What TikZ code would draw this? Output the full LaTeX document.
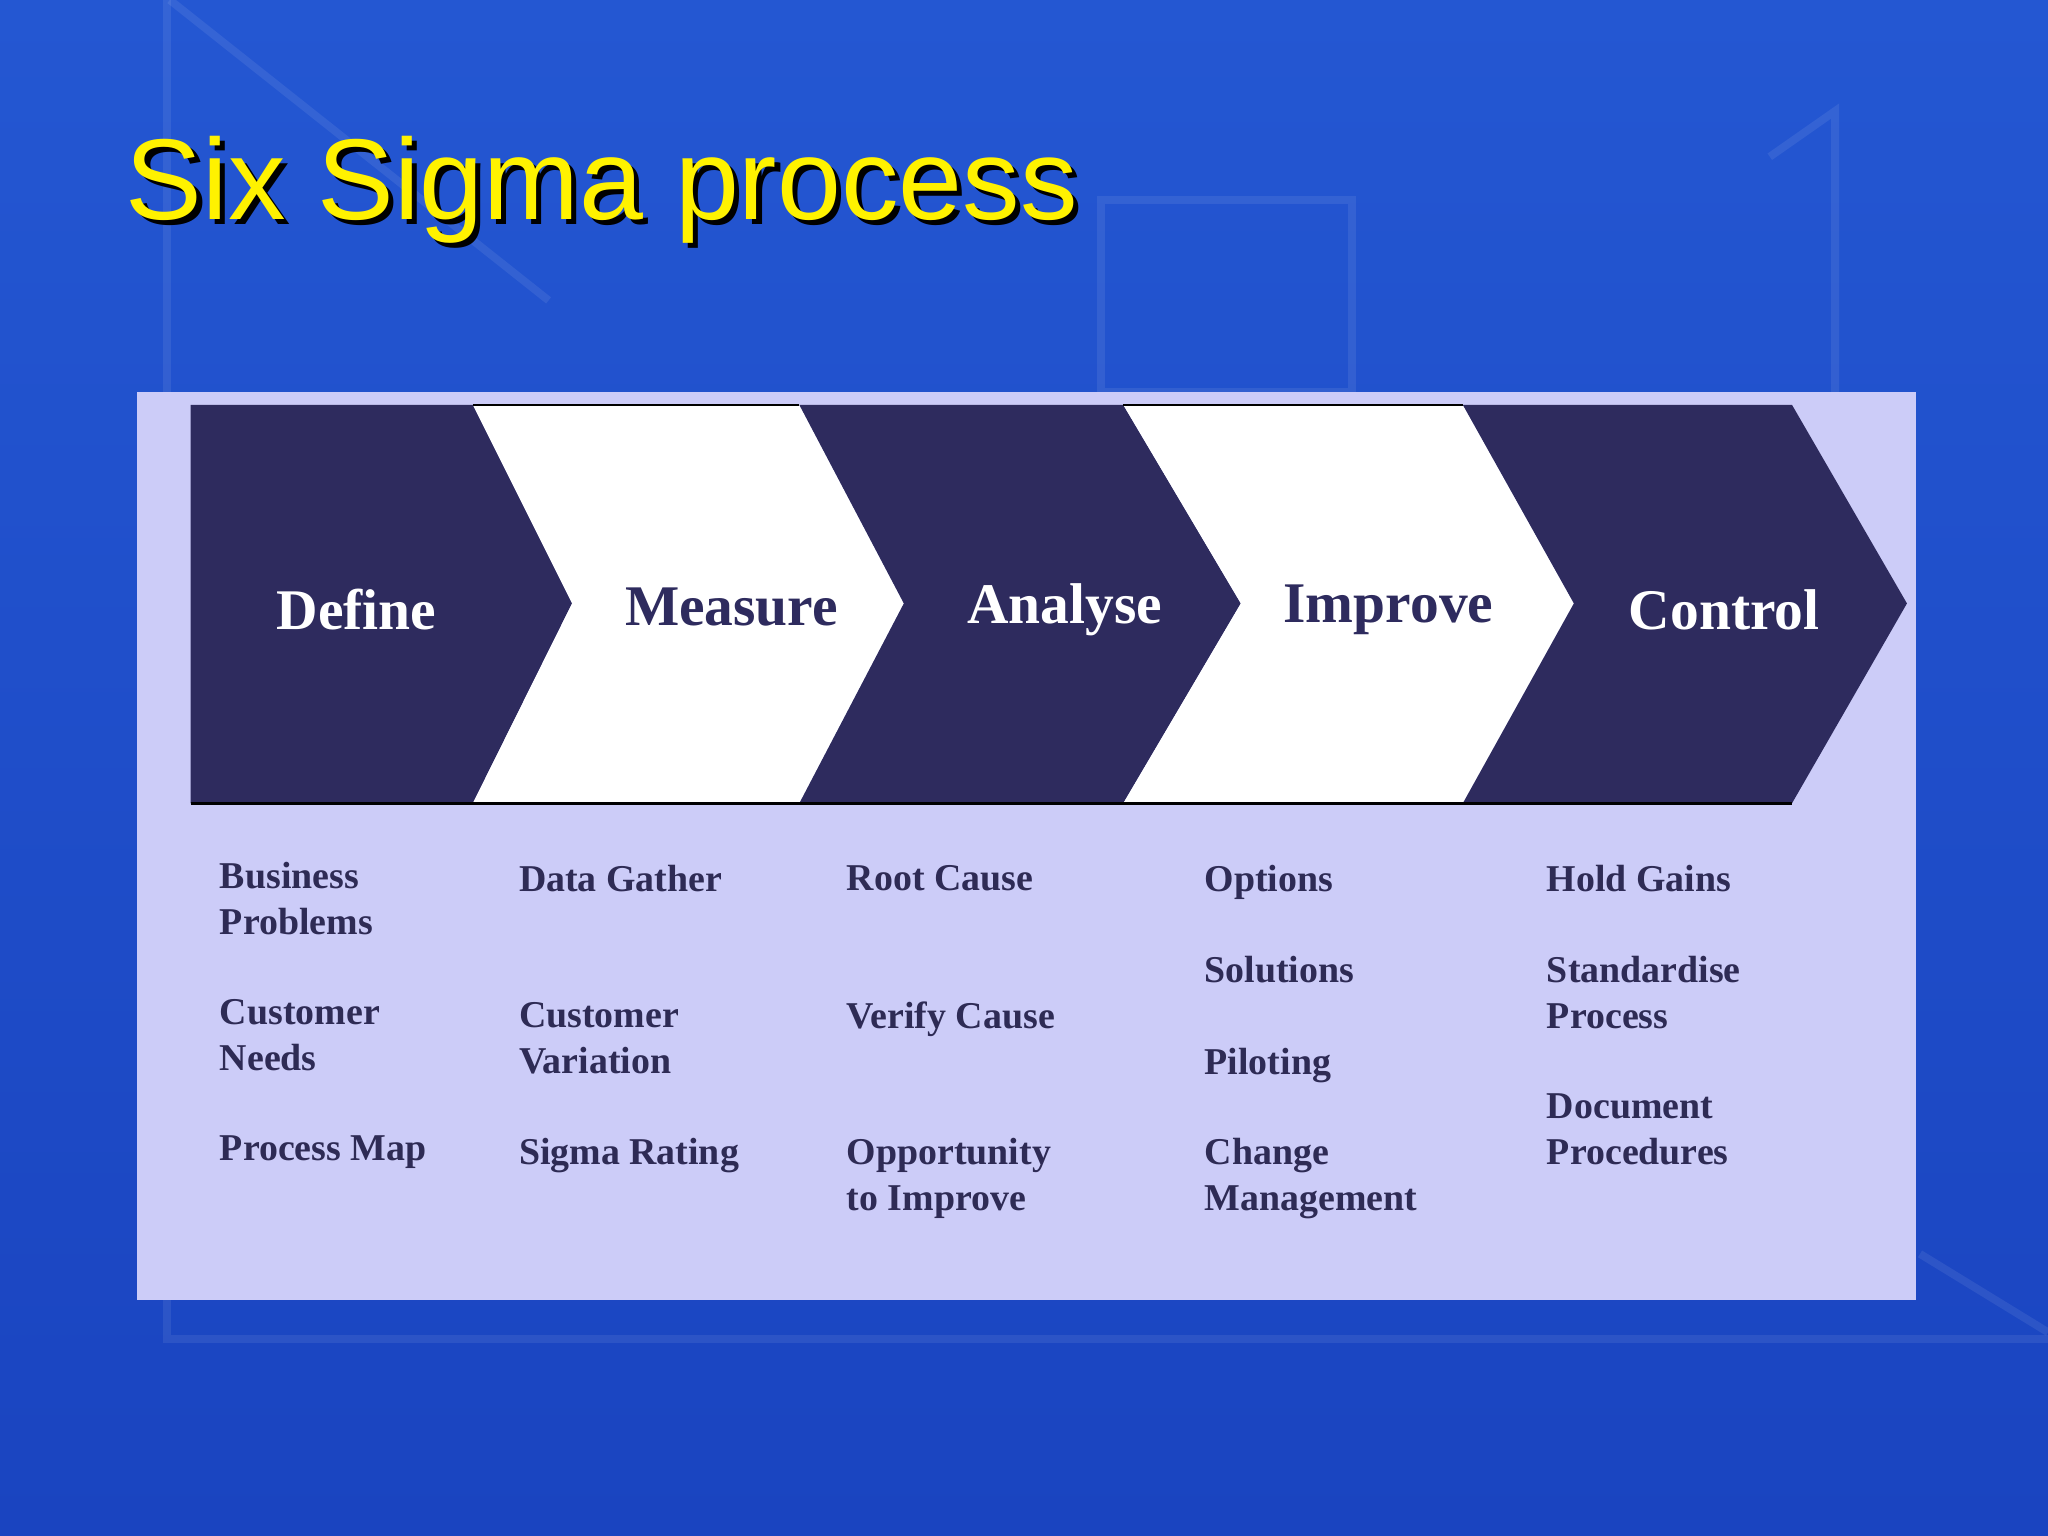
\documentclass[tikz,border=0pt]{standalone}
\usepackage{fontspec}
\setmainfont{Liberation Serif}
\newfontfamily\titlefont{Liberation Sans}
\definecolor{bgblue}{HTML}{2457D2}
\definecolor{bgdark}{HTML}{1A44C0}
\definecolor{panel}{HTML}{CCCCF8}
\definecolor{chev}{HTML}{2E2B5E}
\definecolor{itemc}{HTML}{2E2B55}
\begin{document}
\begin{tikzpicture}[x=0.5pt,y=-0.5pt,
  head/.style={font=\bfseries\fontsize{22}{25}\selectfont},
  item/.style={font=\bfseries\fontsize{14.5}{17.5}\selectfont,text=itemc,anchor=north west,align=left,inner sep=0}]
\shade[top color=bgblue,bottom color=bgdark] (0,0) rectangle (1568,1176);
\useasboundingbox (0,0) rectangle (1568,1176);
\begin{scope}[draw=white,opacity=0.08,line width=3]
\draw (128,0) -- (128,1025) -- (1568,1025);
\draw (843,153) rectangle (1035,300);
\draw (1355,120) -- (1405,85) -- (1405,300);
\draw (130,0) -- (420,230);
\draw (1470,960) -- (1568,1020);
\end{scope}
\node[anchor=west,inner sep=0,text=black,font=\titlefont\fontsize{44}{50}\selectfont] at (100,149) {Six Sigma process};
\node[anchor=west,inner sep=0,text=yellow,font=\titlefont\fontsize{44}{50}\selectfont] (title) at (96,145) {Six Sigma process};
\fill[panel] (105,300) rectangle (1467,995);
% chevrons
\fill[chev] (146,310) -- (362,310) -- (438,462) -- (362,615) -- (146,615) -- cycle;
\fill[white] (362,310) -- (612,310) -- (692,462) -- (612,615) -- (362,615) -- (438,462) -- cycle;
\fill[chev] (612,310) -- (860,310) -- (950,462) -- (860,615) -- (612,615) -- (692,462) -- cycle;
\fill[white] (860,310) -- (1120,310) -- (1205,462) -- (1120,615) -- (860,615) -- (950,462) -- cycle;
\fill[chev] (1120,310) -- (1372,310) -- (1460,462) -- (1372,615) -- (1120,615) -- (1205,462) -- cycle;
\draw[black,line width=1] (146,615) -- (1372,615);
\draw[black,line width=1] (362,310) -- (612,310) (860,310) -- (1120,310);
\node[head,text=white] (d) at (273,467) {Define};
\node[head,text=chev] (m) at (560,465) {Measure};
\node[head,text=white] (a) at (815,467) {Analyse};
\node[head,text=chev] (i) at (1063,467) {Improve};
\node[head,text=white] (c) at (1320,467) {Control};
% items
\node[item] (d1) at (168,660) {Business\\Problems};
\node[item] (d2) at (168,765) {Customer\\Needs};
\node[item] (d3) at (168,869) {Process Map};
\node[item] (m1) at (397,662) {Data Gather};
\node[item] (m2) at (397,767) {Customer\\Variation};
\node[item] (m3) at (397,871) {Sigma Rating};
\node[item] (a1) at (648,662) {Root Cause};
\node[item] (a2) at (648,767) {Verify Cause};
\node[item] (a3) at (648,871) {Opportunity\\to Improve};
\node[item] (i1) at (922,662) {Options};
\node[item] (i2) at (922,732) {Solutions};
\node[item] (i3) at (922,802) {Piloting};
\node[item] (i4) at (922,871) {Change\\Management};
\node[item] (c1) at (1184,662) {Hold Gains};
\node[item] (c2) at (1184,732) {Standardise\\Process};
\node[item] (c3) at (1184,837) {Document\\Procedures};
\end{tikzpicture}
\end{document}
